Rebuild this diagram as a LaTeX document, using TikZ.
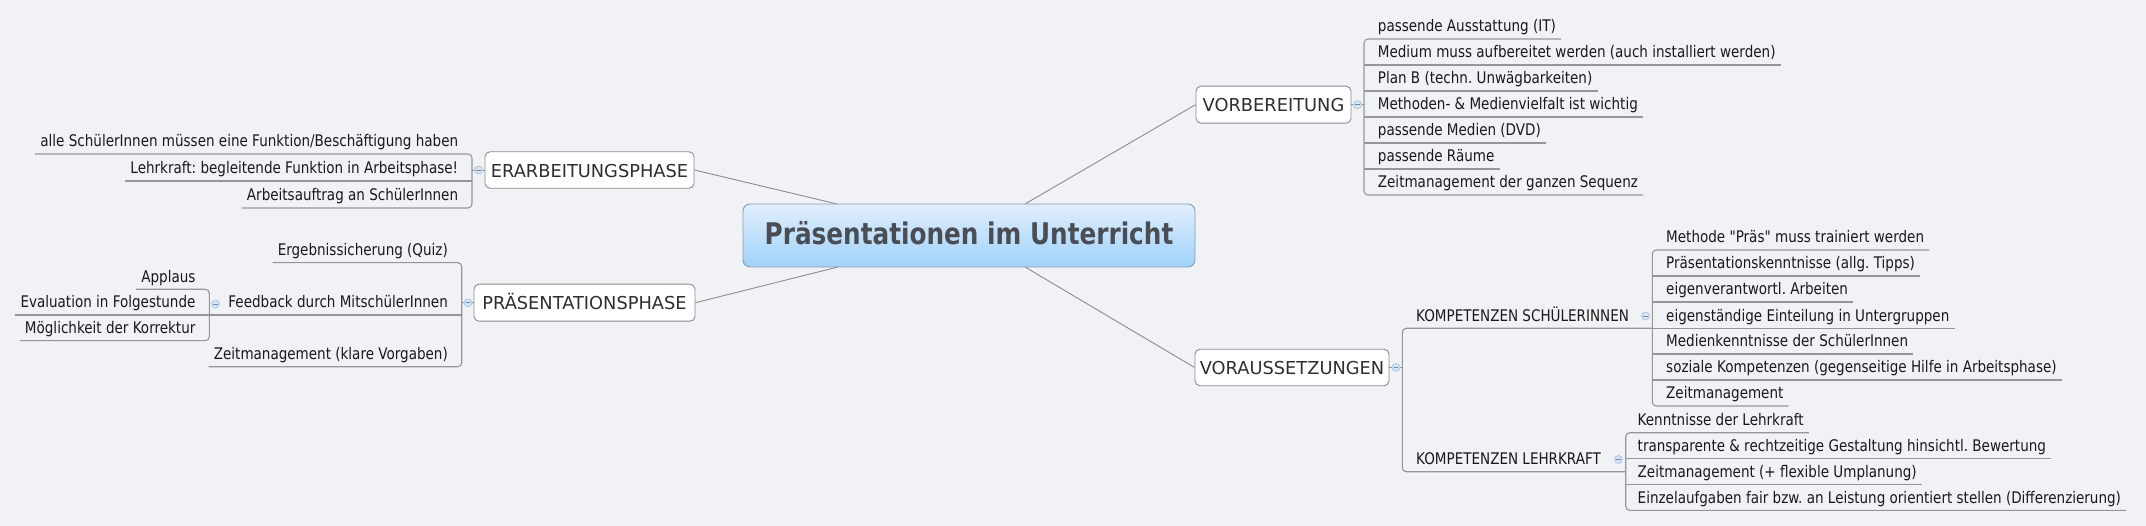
\documentclass[tikz,border=0pt]{standalone}
\usepackage{fontspec}
\setmainfont{DejaVu Sans}
\newfontfamily\leaffont[FakeStretch=0.845]{DejaVu Sans}
\newfontfamily\titlefont[FakeStretch=0.83]{DejaVu Sans}
\frenchspacing
\definecolor{bgcol}{RGB}{241,242,246}
\definecolor{lncol}{RGB}{140,140,140}
\definecolor{brcol}{RGB}{150,150,150}
\definecolor{ctop}{RGB}{224,238,252}
\definecolor{cbot}{RGB}{160,210,250}
\definecolor{cborder}{RGB}{135,155,178}
\definecolor{ctext}{RGB}{74,78,84}
\definecolor{mfill}{RGB}{214,228,244}
\definecolor{mdraw}{RGB}{165,195,225}
\begin{document}
\begin{tikzpicture}[x=1pt,y=-1pt,
  conn/.style={draw=lncol, line width=0.9pt},
  brk/.style={draw=brcol, line width=1.1pt, rounded corners=4pt},
  topic/.style={draw=lncol, fill=white, rounded corners=5pt, line width=0.9pt,
    font=\fontsize{17.8}{20}\selectfont, text=black!82, inner sep=0pt,
    text height=14.6pt, text depth=0pt},
  leafr/.style={font=\leaffont\fontsize{16}{19}\selectfont, text=black!90,
    inner xsep=5pt, inner ysep=0pt, text height=12pt, text depth=7pt, anchor=south west},
  leafl/.style={leafr, anchor=south east},
  marker/.style={circle, draw=mdraw, fill=mfill, line width=0.7pt, minimum size=8pt,
    inner sep=0pt, path picture={\draw[mdraw!70!black, line width=0.6pt]
      ([xshift=-2.2pt]path picture bounding box.center) -- ([xshift=2.2pt]path picture bounding box.center);}},
]
\fill[bgcol] (0,0) rectangle (2146,526);
\useasboundingbox (0,0) rectangle (2146,526);

% connector anchors on the central topic
\coordinate (cTL) at (837,204);
\coordinate (cBL) at (838,267);
\coordinate (cTR) at (1025,204);
\coordinate (cBR) at (1025,267);

% main topics
\node[topic, minimum width=209pt, minimum height=36.5pt] (era) at (589.5,170) {ERARBEITUNGSPHASE};
\node[topic, minimum width=221pt, minimum height=37pt] (pra) at (584.5,302.7) {PRÄSENTATIONSPHASE};
\node[topic, minimum width=155pt, minimum height=37pt] (vor) at (1273.5,104.7) {VORBEREITUNG};
\node[topic, minimum width=194pt, minimum height=36.5pt] (vau) at (1292,367.5) {VORAUSSETZUNGEN};

\draw[conn] (era.east) -- (cTL);
\draw[conn] (pra.east) -- (cBL);
\draw[conn] (cTR) -- (vor.west);
\draw[conn] (cBR) -- (vau.west);

% central topic
\node[draw=cborder, line width=0.9pt, rounded corners=7pt, top color=ctop, bottom color=cbot,
  minimum width=452pt, minimum height=63pt, inner sep=0pt, text height=19pt, text depth=0pt,
  text=ctext, font=\titlefont\bfseries\fontsize{29.8}{34}\selectfont] (c) at (969,235.5)
  {Präsentationen im Unterricht};

% bracket x positions
\coordinate (bv) at (1364,0);
\coordinate (be) at (472,0);
\coordinate (bp) at (461.7,0);
\coordinate (bf) at (209.3,0);
\coordinate (bva) at (1402.3,0);
\coordinate (bks) at (1652.3,0);
\coordinate (bkl) at (1625.7,0);

% VORBEREITUNG
\node[leafr] (v1) at (1372.7,39) {passende Ausstattung (IT)};
\node[leafr] (v2) at (1372.7,65) {Medium muss aufbereitet werden (auch installiert werden)};
\node[leafr] (v3) at (1372.7,91) {Plan B (techn. Unwägbarkeiten)};
\node[leafr] (v4) at (1372.7,117) {Methoden- \& Medienvielfalt ist wichtig};
\node[leafr] (v5) at (1372.7,143) {passende Medien (DVD)};
\node[leafr] (v6) at (1372.7,169) {passende Räume};
\node[leafr] (v7) at (1372.7,195) {Zeitmanagement der ganzen Sequenz};
\draw[brk] (v1.south east) -- (bv |- v1.south) -- (bv |- v7.south) -- (v7.south east);
\foreach \i in {2,...,6} \draw[brk] (bv |- v\i.south) -- (v\i.south east);
\draw[conn] (vor.east) -- (bv |- vor.east);
\node[marker] (mv) at (1357.5,104.7) {};

% ERARBEITUNGSPHASE
\node[leafl] (e1) at (463.3,154) {alle SchülerInnen müssen eine Funktion/Beschäftigung haben};
\node[leafl] (e2) at (463.3,181) {Lehrkraft: begleitende Funktion in Arbeitsphase!};
\node[leafl] (e3) at (463.3,208) {Arbeitsauftrag an SchülerInnen};
\draw[brk] (e1.south west) -- (be |- e1.south) -- (be |- e3.south) -- (e3.south west);
\draw[brk] (be |- e2.south) -- (e2.south west);
\draw[conn] (era.west) -- (be |- era.west);
\node[marker] (me) at (478.5,170) {};

% PRÄSENTATIONSPHASE
\node[leafl] (p1) at (453,262.7) {Ergebnissicherung (Quiz)};
\node[leafl] (p2) at (453,315) {Feedback durch MitschülerInnen};
\node[leafl] (p3) at (453,366.7) {Zeitmanagement (klare Vorgaben)};
\draw[brk] (p1.south west) -- (bp |- p1.south) -- (bp |- p3.south) -- (p3.south west);
\draw[brk] (bp |- p2.south) -- (bf |- p2.south);
\draw[conn] (pra.west) -- (bp |- pra.west);
\node[marker] (mp) at (468,302.7) {};

% Feedback
\node[leafl] (f1) at (200.6,289.3) {Applaus};
\node[leafl] (f2) at (200.6,315) {Evaluation in Folgestunde};
\node[leafl] (f3) at (200.6,340.7) {Möglichkeit der Korrektur};
\draw[brk] (f1.south west) -- (bf |- f1.south) -- (bf |- f3.south) -- (f3.south west);
\draw[brk] (bf |- f2.south) -- (f2.south west);
\node[marker] (mf) at (215.5,304) {};

% VORAUSSETZUNGEN
\node[leafr] (k1) at (1411,328.3) {KOMPETENZEN SCHÜLERINNEN};
\node[leafr] (k2) at (1411,471.7) {KOMPETENZEN LEHRKRAFT};
\draw[brk] (bks |- k1.south) -- (bva |- k1.south) -- (bva |- k2.south) -- (bkl |- k2.south);
\draw[conn] (vau.east) -- (bva |- vau.east);
\node[marker] (mva) at (1396,367.5) {};
\node[marker] (mks) at (1645.5,316) {};
\node[marker] (mkl) at (1618.5,459.5) {};

% KOMPETENZEN SCHÜLERINNEN
\node[leafr] (s1) at (1661,250) {Methode "Präs" muss trainiert werden};
\node[leafr] (s2) at (1661,276) {Präsentationskenntnisse (allg. Tipps)};
\node[leafr] (s3) at (1661,302) {eigenverantwortl. Arbeiten};
\node[leafr] (s4) at (1661,328.3) {eigenständige Einteilung in Untergruppen};
\node[leafr] (s5) at (1661,354) {Medienkenntnisse der SchülerInnen};
\node[leafr] (s6) at (1661,380) {soziale Kompetenzen (gegenseitige Hilfe in Arbeitsphase)};
\node[leafr] (s7) at (1661,406) {Zeitmanagement};
\draw[brk] (s1.south east) -- (bks |- s1.south) -- (bks |- s7.south) -- (s7.south east);
\foreach \i in {2,...,6} \draw[brk] (bks |- s\i.south) -- (s\i.south east);

% KOMPETENZEN LEHRKRAFT
\node[leafr] (l1) at (1632.5,432.7) {Kenntnisse der Lehrkraft};
\node[leafr] (l2) at (1632.5,458.5) {transparente \& rechtzeitige Gestaltung hinsichtl. Bewertung};
\node[leafr] (l3) at (1632.5,484.5) {Zeitmanagement (+ flexible Umplanung)};
\node[leafr] (l4) at (1632.5,510.3) {Einzelaufgaben fair bzw. an Leistung orientiert stellen (Differenzierung)};
\draw[brk] (l1.south east) -- (bkl |- l1.south) -- (bkl |- l4.south) -- (l4.south east);
\foreach \i in {2,3} \draw[brk] (bkl |- l\i.south) -- (l\i.south east);
\end{tikzpicture}
\end{document}
